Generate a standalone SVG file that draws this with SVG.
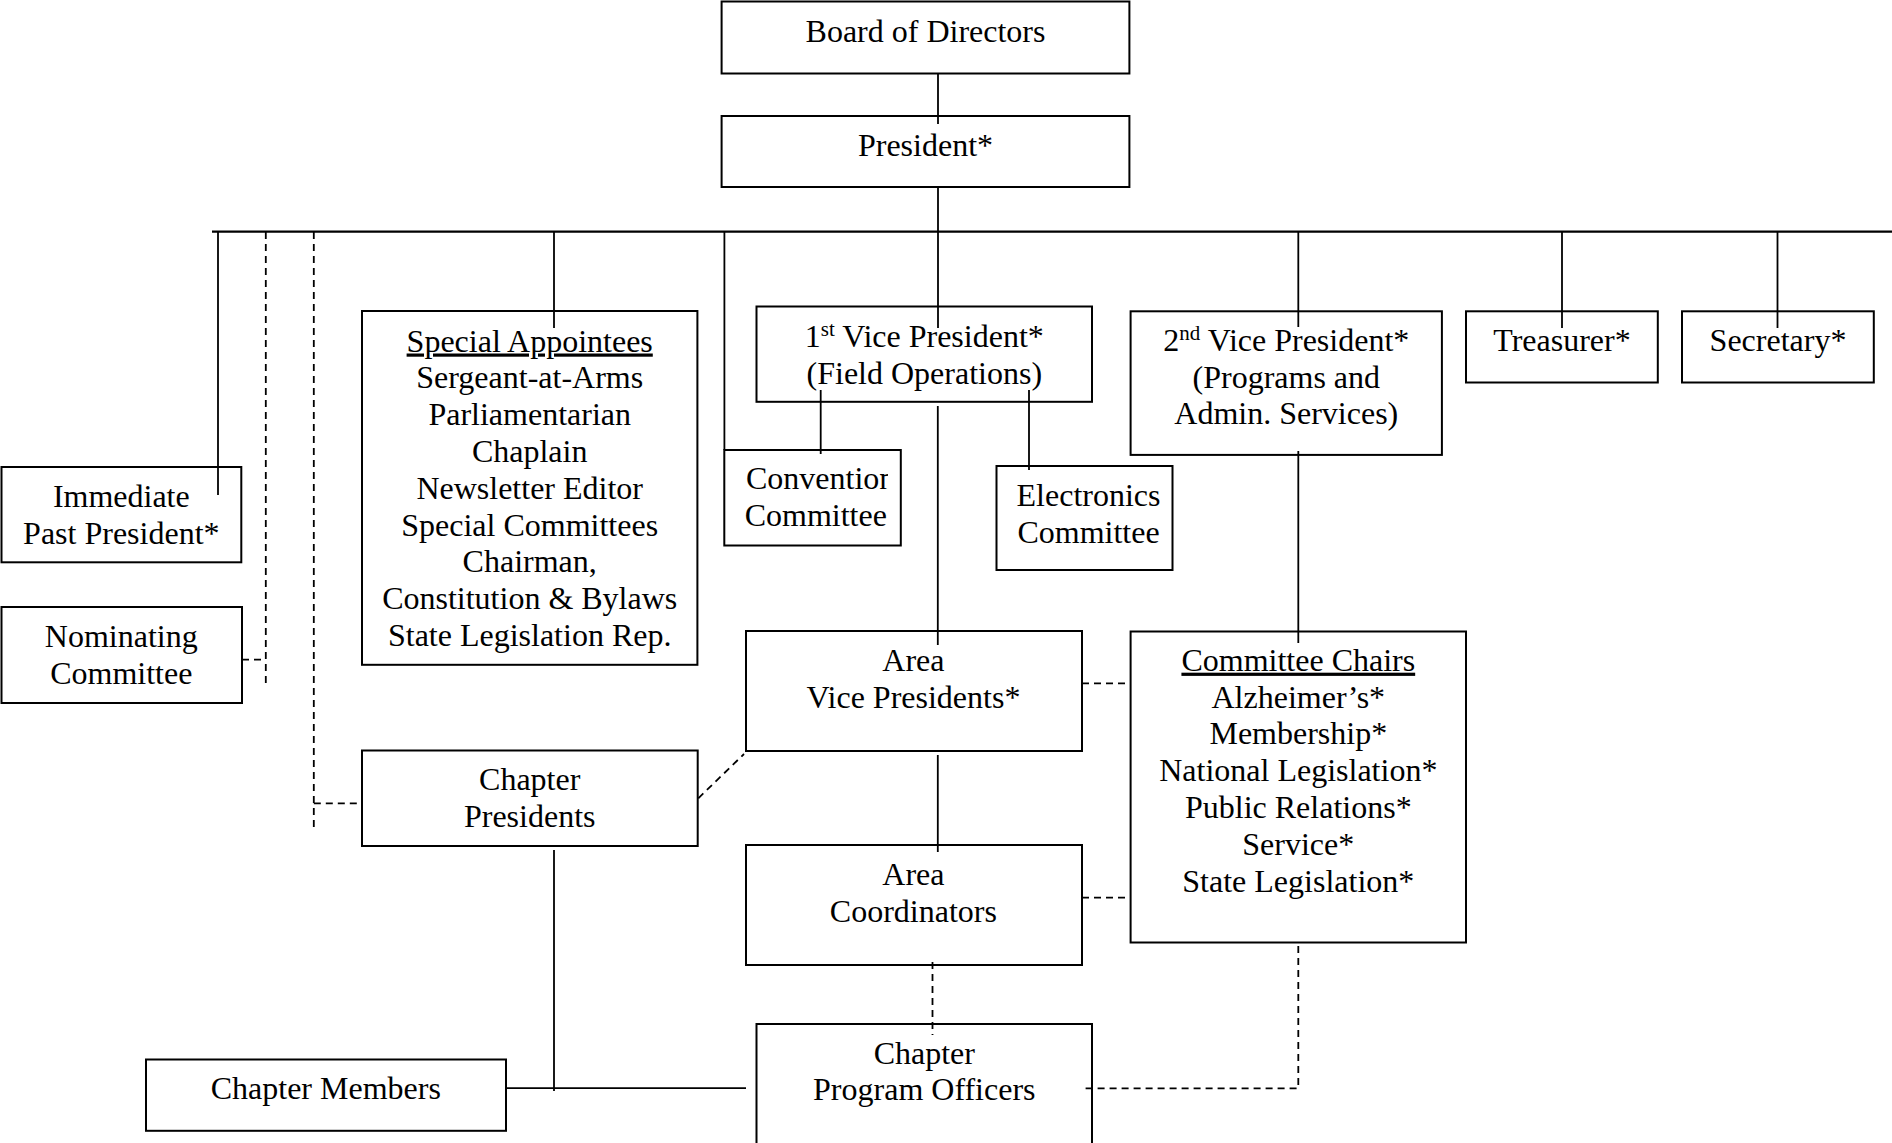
<svg xmlns="http://www.w3.org/2000/svg" width="1892" height="1143" viewBox="0 0 1892 1143">
<style>
.box{fill:#fff;stroke:#000;stroke-width:2}
.ln{stroke:#000;stroke-width:1.8;fill:none}
.bar{stroke:#000;stroke-width:2.2;fill:none}
.dsh{stroke:#000;stroke-width:1.8;fill:none;stroke-dasharray:7 5}
text{font-family:"Liberation Serif","Times New Roman",serif;font-size:32px;fill:#000;text-anchor:middle}
.u{text-decoration:underline}
</style>
<defs>
<clipPath id="convClip"><rect x="724" y="450" width="164" height="96"/></clipPath>
</defs>
<rect width="1892" height="1143" fill="#fff"/>
<g id="nodes">
<g id="board"><rect class="box" x="721.6" y="1.5" width="407.8" height="72"/><text x="925.5" y="41.5">Board of Directors</text></g>
<g id="president"><rect class="box" x="721.6" y="116" width="407.8" height="71"/><text x="925.5" y="155.5">President*</text></g>
<g id="special"><rect class="box" x="362" y="311" width="335.4" height="353.8"/>
<text x="529.7" y="351.5" class="u">Special Appointees</text>
<text x="529.7" y="388.3">Sergeant-at-Arms</text>
<text x="529.7" y="425.1">Parliamentarian</text>
<text x="529.7" y="461.9">Chaplain</text>
<text x="529.7" y="498.7">Newsletter Editor</text>
<text x="529.7" y="535.5">Special Committees</text>
<text x="529.7" y="572.3">Chairman,</text>
<text x="529.7" y="609.1">Constitution &amp; Bylaws</text>
<text x="529.7" y="645.9">State Legislation Rep.</text></g>
<g id="vp1"><rect class="box" x="756.5" y="306.5" width="335.5" height="95.3"/>
<text x="924.3" y="346.7">1<tspan font-size="21" dy="-11">st</tspan><tspan dy="11"> Vice President*</tspan></text>
<text x="924.3" y="383.5">(Field Operations)</text></g>
<g id="vp2"><rect class="box" x="1130.6" y="311.3" width="311.3" height="143.6"/>
<text x="1286.3" y="350.7">2<tspan font-size="21" dy="-11">nd</tspan><tspan dy="11"> Vice President*</tspan></text>
<text x="1286.3" y="387.5">(Programs and</text>
<text x="1286.3" y="424.3">Admin. Services)</text></g>
<g id="treasurer"><rect class="box" x="1466" y="311.3" width="191.8" height="71.2"/><text x="1562" y="350.7">Treasurer*</text></g>
<g id="secretary"><rect class="box" x="1682" y="311.3" width="191.8" height="71.2"/><text x="1778" y="350.7">Secretary*</text></g>
<g id="pastpres"><rect class="box" x="1.5" y="467" width="239.8" height="95.3"/>
<text x="121.3" y="506.7">Immediate</text><text x="121.3" y="543.5">Past President*</text></g>
<g id="nominating"><rect class="box" x="1.5" y="607" width="240.5" height="96"/>
<text x="121.3" y="646.7">Nominating</text><text x="121.3" y="683.5">Committee</text></g>
<g id="convention"><rect class="box" x="724.3" y="450" width="176.5" height="95.5"/>
<text x="746" y="489.3" style="text-anchor:start" clip-path="url(#convClip)">Convention</text>
<text x="815.8" y="526.1">Committee</text></g>
<g id="electronics"><rect class="box" x="996.5" y="466" width="176" height="104"/>
<text x="1088.5" y="506">Electronics</text><text x="1088.5" y="542.8">Committee</text></g>
<g id="areavp"><rect class="box" x="746" y="631" width="336" height="120"/>
<text x="913.4" y="671">Area</text><text x="913.4" y="707.8">Vice Presidents*</text></g>
<g id="chairs"><rect class="box" x="1130.6" y="631.5" width="335.4" height="311"/>
<text x="1298.3" y="670.7" class="u">Committee Chairs</text>
<text x="1298.3" y="707.5">Alzheimer’s*</text>
<text x="1298.3" y="744.3">Membership*</text>
<text x="1298.3" y="781.1">National Legislation*</text>
<text x="1298.3" y="817.9">Public Relations*</text>
<text x="1298.3" y="854.7">Service*</text>
<text x="1298.3" y="891.5">State Legislation*</text></g>
<g id="chappres"><rect class="box" x="362" y="750.5" width="335.7" height="95.5"/>
<text x="529.7" y="790">Chapter</text><text x="529.7" y="826.8">Presidents</text></g>
<g id="areacoord"><rect class="box" x="746" y="845" width="336" height="120"/>
<text x="913.4" y="885">Area</text><text x="913.4" y="921.8">Coordinators</text></g>
<g id="cpo"><rect class="box" x="756.5" y="1024" width="335.5" height="140"/>
<text x="924.3" y="1063.5">Chapter</text><text x="924.3" y="1100.3">Program Officers</text></g>
<g id="members"><rect class="box" x="146" y="1059.5" width="360" height="71.3"/><text x="325.8" y="1099.4">Chapter Members</text></g>
</g>
<g id="connectors">
<line class="ln" x1="938" y1="74" x2="938" y2="124"/>
<line class="ln" x1="938" y1="187" x2="938" y2="328"/>
<line class="bar" x1="212" y1="231.7" x2="1892" y2="231.7"/>
<line class="ln" x1="218" y1="231.7" x2="218" y2="495"/>
<line class="dsh" x1="265.8" y1="232" x2="265.8" y2="687"/>
<line class="dsh" x1="242" y1="659.6" x2="265.8" y2="659.6"/>
<line class="dsh" x1="313.8" y1="232" x2="313.8" y2="827"/>
<line class="dsh" x1="313.8" y1="803.3" x2="362" y2="803.3"/>
<line class="ln" x1="554" y1="231.7" x2="554" y2="328"/>
<line class="ln" x1="724.4" y1="231.7" x2="724.4" y2="450"/>
<line class="ln" x1="1298.3" y1="231.7" x2="1298.3" y2="327"/>
<line class="ln" x1="1562" y1="231.7" x2="1562" y2="328"/>
<line class="ln" x1="1777.5" y1="231.7" x2="1777.5" y2="328"/>
<line class="ln" x1="820.7" y1="390" x2="820.7" y2="454"/>
<line class="ln" x1="1029" y1="390" x2="1029" y2="470"/>
<line class="ln" x1="937.8" y1="406" x2="937.8" y2="645"/>
<line class="ln" x1="937.8" y1="755" x2="937.8" y2="852"/>
<line class="dsh" x1="932.5" y1="962" x2="932.5" y2="1035"/>
<line class="ln" x1="1298.3" y1="451" x2="1298.3" y2="643"/>
<line class="dsh" x1="1082" y1="683.3" x2="1130.6" y2="683.3"/>
<line class="dsh" x1="1082" y1="897.7" x2="1130.6" y2="897.7"/>
<polyline class="dsh" points="1298.3,946 1298.3,1088.3 1081,1088.3"/>
<line class="dsh" x1="698.3" y1="798.3" x2="744" y2="754"/>
<line class="ln" x1="554" y1="850" x2="554" y2="1091"/>
<line class="ln" x1="506" y1="1088.2" x2="746" y2="1088.2"/>
</g>
</svg>
